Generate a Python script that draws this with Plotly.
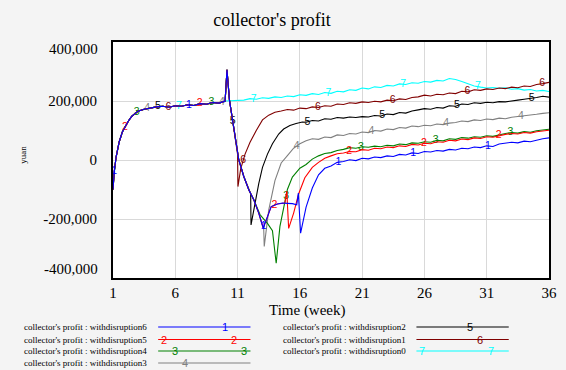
import numpy as np
import plotly.graph_objects as go

# ---------------- data ----------------
series_names = ["collector's profit : withdisruption6",
                "collector's profit : withdisruption5",
                "collector's profit : withdisruption4",
                "collector's profit : withdisruption3",
                "collector's profit : withdisruption2",
                "collector's profit : withdisruption1",
                "collector's profit : withdisruption0"]
series_labels = ["1", "2", "3", "4", "5", "6", "7"]
series_colors = ["#0000FF", "#FF0000", "#008000", "#808080", "#000000", "#800000", "#00FFFF"]

x_tick_vals = [1, 6, 11, 16, 21, 26, 31, 36]
y_tick_vals = [-200000, 0, 200000]
y_tick_text = ["-200,000", "0", "200,000"]
y_end_vals = [400000, -400000]
y_end_text = ["400,000", "-400,000"]

# common start (all scenarios identical until week 10)
base_t = [1.0, 1.1, 1.25, 1.5, 1.75, 2.0, 2.25, 2.5, 2.75, 3.0, 3.5, 4.0, 4.5, 5.0,
          5.5, 6.0, 6.5, 7.0, 7.5, 8.0, 8.5, 9.0, 9.5, 10.0]
base_v = [-100000, -40000, 10000, 62000, 95000, 115000, 133000, 148000, 158000, 165000,
          172000, 177000, 180000, 182000, 179000, 184000, 182000, 187000, 185000, 191000,
          189000, 195000, 193000, 200000]

# shared disruption path (followed by disrupted scenarios until they recover)
path_t = [10.15, 10.35, 10.6, 10.85, 11.1, 11.5, 11.9, 12.3, 12.7, 13.06, 13.4, 13.7,
          14.2, 14.6, 15.0, 15.4, 15.75, 15.88, 16.06]
path_v = [306000, 203000, 130000, 68000, 0, -56000, -101000, -135000, -180000, -231000,
          -192000, -158000, -149000, -146000, -147000, -148000, -152000, -112000, -248000]

# individual recovery segments
mid_t_1 = [16.5]
mid_v_1 = [-160000]
mid_t_2 = [14.8, 14.95, 15.1, 15.5, 15.9, 16.4]
mid_v_2 = [-146000, -105000, -232000, -180000, -115000, -60000]
mid_t_3 = [12.8, 13.0, 13.4, 13.8, 14.1, 14.4, 14.7, 15.0, 15.4, 16.0, 16.5]
mid_v_3 = [-185000, -195000, -215000, -240000, -350000, -225000, -165000, -100000,
           -58000, -28000, -15000]
mid_t_4 = [13.1, 13.14, 13.5, 14.0, 14.5, 15.0, 15.5, 16.0, 16.5]
mid_v_4 = [-235000, -293000, -170000, -70000, -10000, 15000, 40000, 55000, 65000]
mid_t_5 = [12.05, 12.08, 12.4, 12.7, 13.0, 13.4, 13.8, 14.3, 14.7, 15.2, 15.7, 16.2, 16.5]
mid_v_5 = [-114000, -220000, -140000, -80000, -25000, 20000, 55000, 88000, 105000,
           117000, 124000, 129000, 128000]
mid_t_6 = [11.0, 11.03, 11.25, 11.6, 12.0, 12.5, 13.0, 13.5, 14.0, 14.5, 15.0, 15.5,
           16.0, 16.5]
mid_v_6 = [20000, -90000, -30000, 20000, 60000, 100000, 136000, 152000, 162000, 166000,
           171000, 169000, 176000, 174000]

# late part, weeks 17 .. 36 every half week
late_weeks = [17.0 + 0.5 * i for i in range(39)]
late_v_1 = [-95000, -50000, -28000, -20000, -8000, -5000, 1000, -2000, 6000, 4000,
            10000, 8000, 14000, 12000, 19000, 17000, 24000, 22000, 29000, 27000,
            32000, 30000, 36000, 34000, 40000, 38000, 44000, 42000, 48000, 46000,
            54000, 58000, 60000, 58000, 64000, 62000, 68000, 72000, 75000]
late_v_2 = [-25000, -8000, 6000, 14000, 21000, 24000, 29000, 28000, 35000, 33000,
            40000, 38000, 44000, 42000, 48000, 46000, 53000, 51000, 57000, 55000,
            62000, 60000, 67000, 65000, 71000, 69000, 75000, 73000, 79000, 77000,
            83000, 87000, 90000, 88000, 93000, 91000, 96000, 99000, 101000]
late_v_3 = [3000, 14000, 22000, 25000, 32000, 36000, 42000, 40000, 45000, 43000,
            47000, 45000, 50000, 48000, 54000, 52000, 58000, 57000, 62000, 60000,
            67000, 65000, 72000, 70000, 76000, 74000, 79000, 77000, 82000, 80000,
            86000, 90000, 93000, 91000, 96000, 94000, 99000, 102000, 104000]
late_v_4 = [72000, 70000, 78000, 76000, 85000, 83000, 90000, 88000, 95000, 93000,
            100000, 98000, 105000, 103000, 110000, 108000, 115000, 113000, 118000, 116000,
            122000, 120000, 125000, 127000, 132000, 130000, 136000, 134000, 139000, 137000,
            142000, 140000, 145000, 147000, 150000, 152000, 155000, 158000, 160000]
late_v_5 = [134000, 132000, 140000, 138000, 144000, 142000, 146000, 144000, 147000, 146000,
            151000, 149000, 156000, 154000, 161000, 159000, 166000, 170000, 174000, 172000,
            178000, 176000, 184000, 182000, 190000, 188000, 194000, 192000, 196000, 194000,
            198000, 197000, 201000, 203000, 206000, 208000, 212000, 216000, 213000]
late_v_6 = [180000, 178000, 184000, 182000, 190000, 188000, 194000, 192000, 197000, 195000,
            199000, 197000, 203000, 201000, 207000, 205000, 212000, 214000, 220000, 217000,
            223000, 221000, 227000, 225000, 233000, 231000, 238000, 236000, 241000, 239000,
            244000, 242000, 247000, 245000, 251000, 249000, 256000, 259000, 263000]

# no-disruption scenario after week 10
cyan_t = [10.5 + 0.5 * i for i in range(52)]
cyan_v = [201000, 204000, 203000, 208000, 206000, 211000, 209000, 214000, 212000, 217000,
          215000, 221000, 219000, 225000, 222000, 229000, 226000, 233000, 231000, 238000,
          236000, 244000, 241000, 248000, 246000, 253000, 251000, 258000, 256000, 262000,
          260000, 266000, 264000, 270000, 268000, 276000, 273000, 266000, 258000, 251000,
          247000, 244000, 246000, 243000, 245000, 240000, 242000, 237000, 239000, 234000,
          236000, 232000]

# week of the first number label of each curve (then every 6 weeks)
label_start = [1.1, 1.95, 2.9, 3.75, 4.6, 5.45, 6.3]
label_every = 6

# ---------------- build series ----------------
mids = [(mid_t_1, mid_v_1), (mid_t_2, mid_v_2), (mid_t_3, mid_v_3),
        (mid_t_4, mid_v_4), (mid_t_5, mid_v_5), (mid_t_6, mid_v_6)]
lates = [late_v_1, late_v_2, late_v_3, late_v_4, late_v_5, late_v_6]

series = []
for (mt, mv), lv in zip(mids, lates):
    pt = [t for t in path_t if t < mt[0]]
    pv = path_v[:len(pt)]
    series.append((base_t + pt + mt + late_weeks, base_v + pv + mv + lv))
series.append((base_t + cyan_t, base_v + cyan_v))

# ---------------- layout geometry (pixels) ----------------
W, H = 566, 370
L, R, T, B = 113, 557, 42, 278
FONT = "Liberation Serif, Times New Roman, serif"
SANS = "Liberation Sans, Arial, sans-serif"


def px_x(p):
    return (p - L) / (R - L)


def px_y(p):
    return (B - p) / (B - T)


fig = go.Figure()

# draw order: cyan first, blue last (on top)
for i in reversed(range(7)):
    t, v = series[i]
    fig.add_trace(go.Scatter(x=t, y=v, mode="lines",
                             line=dict(color=series_colors[i], width=1.1),
                             name=series_names[i], hoverinfo="skip"))
    lt = np.arange(label_start[i], 36.01, label_every)
    lv = np.interp(lt, t, v)
    fig.add_trace(go.Scatter(x=lt, y=lv, mode="text", text=[series_labels[i]] * len(lt),
                             textfont=dict(family=SANS, size=10.5, color=series_colors[i]),
                             textposition="middle center", hoverinfo="skip",
                             showlegend=False, cliponaxis=False))

shapes = []
annotations = []

# y end labels placed inside the range like the original
for val, txt, shift in zip(y_end_vals, y_end_text, [-7, 9]):
    annotations.append(dict(x=px_x(100), xref="paper", y=val, yref="y", text=txt,
                            showarrow=False, xanchor="right", yanchor="middle",
                            yshift=shift, font=dict(family=FONT, size=15, color="#000")))

# axis titles
annotations.append(dict(x=px_x(311), xref="paper", y=px_y(310.5), yref="paper",
                        text="Time (week)", showarrow=False, xanchor="center",
                        yanchor="middle", font=dict(family=FONT, size=15, color="#000")))
annotations.append(dict(x=px_x(21), xref="paper", y=px_y(155), yref="paper",
                        text="yuan", showarrow=False, textangle=-90, xanchor="center",
                        yanchor="middle", font=dict(family=FONT, size=9, color="#000")))

# legend (drawn like the original two-column key)
rows = [327, 339.5, 351, 363]
legend_pos = [(0, 0), (0, 1), (0, 2), (0, 3), (1, 0), (1, 1), (1, 2)]
col_text_right = [150, 413]
col_line = [(159, 253), (422, 516)]
legend_marks = [[0.72], [0.06, 0.82], [0.18, 0.93], [0.29], [0.58], [0.69], [0.06, 0.81]]
for i, (c, r) in enumerate(legend_pos):
    yy = rows[r]
    annotations.append(dict(x=px_x(col_text_right[c]), xref="paper", y=px_y(yy), yref="paper",
                            text=series_names[i], showarrow=False, xanchor="right",
                            yanchor="middle", font=dict(family=FONT, size=9, color="#000")))
    x0, x1 = col_line[c]
    shapes.append(dict(type="line", xref="paper", yref="paper", x0=px_x(x0), x1=px_x(x1),
                       y0=px_y(yy), y1=px_y(yy), line=dict(color=series_colors[i], width=1.2)))
    for f in legend_marks[i]:
        annotations.append(dict(x=px_x(x0 + f * (x1 - x0)), xref="paper", y=px_y(yy),
                                yref="paper", text=series_labels[i], showarrow=False,
                                xanchor="center", yanchor="middle",
                                font=dict(family=SANS, size=11, color=series_colors[i])))

fig.update_layout(
    width=W, height=H,
    margin=dict(l=L, r=W - R, t=T, b=H - B, pad=0),
    paper_bgcolor="#f4f4f4", plot_bgcolor="#ffffff",
    showlegend=False,
    title=dict(text="collector's profit", x=272 / W, xref="container", xanchor="center",
               y=1 - 20 / H, yref="container", yanchor="middle",
               font=dict(family=FONT, size=18, color="#000")),
    xaxis=dict(range=[1, 36], tickvals=x_tick_vals, showgrid=True, gridcolor="#d9d9d9",
               gridwidth=1, zeroline=False, showline=True, mirror=True, linecolor="#000",
               linewidth=2, ticks="", ticklabelstandoff=0,
               tickfont=dict(family=FONT, size=15, color="#000")),
    yaxis=dict(range=[-400000, 400000], tickvals=y_tick_vals, ticktext=y_tick_text,
               showgrid=True, gridcolor="#d9d9d9", gridwidth=1, zeroline=False,
               showline=True, mirror=True, linecolor="#000", linewidth=2, ticks="",
               ticklabelstandoff=11, tickfont=dict(family=FONT, size=15, color="#000")),
    shapes=shapes, annotations=annotations,
)

fig.write_html("out.html", config={"displayModeBar": False},
               post_script="document.body.style.margin='0';document.body.style.background='#f4f4f4';")
